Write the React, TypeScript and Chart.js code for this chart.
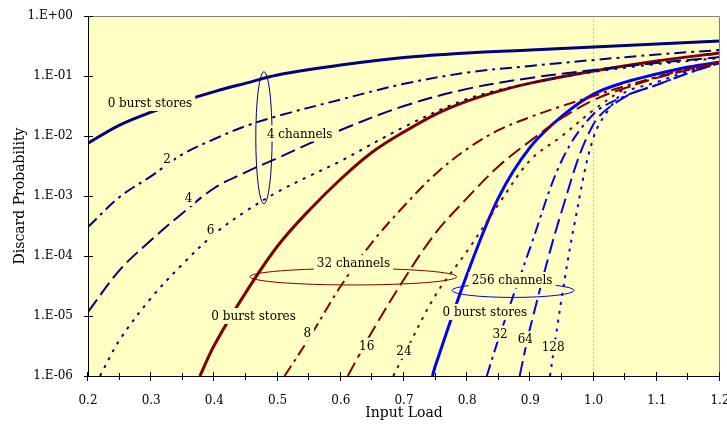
import React, { useEffect, useRef } from 'react';
import { Chart, registerables } from 'chart.js';
Chart.register(...registerables);

// ---- axis settings ----
const X_MIN = 0.2;
const X_MAX = 1.2;
const X_STEP = 0.1;
const Y_DECADES = [-6, -5, -4, -3, -2, -1, 0];
const REF_LOAD = 1.0;

// ---- 4 channels (navy) ----
const c4b0Load = [0.2, 0.25, 0.3, 0.35, 0.4, 0.45, 0.5, 0.6, 0.7, 0.8, 0.9, 1.0, 1.1, 1.2];
const c4b0Prob = [7.6e-3, 1.52e-2, 2.5e-2, 3.8e-2, 5.5e-2, 7.6e-2, 0.104, 0.152, 0.203, 0.242, 0.271, 0.304, 0.341, 0.383];
const c4b2Load = [0.2, 0.25, 0.3, 0.35, 0.4, 0.45, 0.5, 0.6, 0.7, 0.8, 0.9, 1.0, 1.1, 1.2];
const c4b2Prob = [3.04e-4, 9.6e-4, 2.15e-3, 5.0e-3, 8.9e-3, 1.47e-2, 2.15e-2, 4.06e-2, 7.4e-2, 0.114, 0.147, 0.185, 0.228, 0.271];
const c4b4Load = [0.2, 0.25, 0.3, 0.35, 0.4, 0.45, 0.5, 0.6, 0.7, 0.8, 0.9, 1.0, 1.1, 1.2];
const c4b4Prob = [1.17e-5, 5.8e-5, 1.85e-4, 5.2e-4, 1.36e-3, 2.5e-3, 4.3e-3, 1.26e-2, 3.16e-2, 6.1e-2, 9.3e-2, 0.126, 0.165, 0.207];
const c4b6Load = [0.219, 0.25, 0.3, 0.35, 0.4, 0.45, 0.5, 0.55, 0.6, 0.7, 0.8, 0.9, 1.0, 1.1, 1.2];
const c4b6Prob = [1e-6, 3.98e-6, 2.0e-5, 7.4e-5, 2.33e-4, 5.6e-4, 1.17e-3, 2.15e-3, 3.83e-3, 1.41e-2, 4.14e-2, 7.6e-2, 0.117, 0.158, 0.2];

// ---- 32 channels (dark red) ----
const c32b0Load = [0.377, 0.4, 0.45, 0.5, 0.55, 0.6, 0.65, 0.7, 0.75, 0.8, 0.85, 0.9, 1.0, 1.1, 1.2];
const c32b0Prob = [1e-6, 3.29e-6, 2.5e-5, 1.47e-4, 5.8e-4, 1.92e-3, 5.4e-3, 1.17e-2, 2.3e-2, 3.8e-2, 5.6e-2, 7.6e-2, 0.121, 0.178, 0.242];
const c32b8Load = [0.511, 0.55, 0.6, 0.65, 0.7, 0.75, 0.8, 0.85, 0.9, 0.95, 1.0, 1.05, 1.1, 1.15, 1.2];
const c32b8Prob = [1e-6, 4.3e-6, 3.16e-5, 1.71e-4, 6.8e-4, 2.33e-3, 6.1e-3, 1.26e-2, 2.07e-2, 3.16e-2, 4.64e-2, 6.8e-2, 9.6e-2, 0.131, 0.171];
const c32b16Load = [0.611, 0.65, 0.7, 0.75, 0.8, 0.85, 0.9, 0.95, 1.0, 1.05, 1.1, 1.15, 1.2];
const c32b16Prob = [1e-6, 5.6e-6, 4.1e-5, 2.42e-4, 9.3e-4, 3.16e-3, 8.3e-3, 2.0e-2, 3.98e-2, 6.3e-2, 9.3e-2, 0.126, 0.165];
const c32b24Load = [0.683, 0.7, 0.75, 0.8, 0.85, 0.9, 0.95, 1.0, 1.05, 1.1, 1.15, 1.2];
const c32b24Prob = [1e-6, 2.24e-6, 2.24e-5, 1.21e-4, 7.4e-4, 3.98e-3, 1e-2, 2.71e-2, 6.1e-2, 9.6e-2, 0.131, 0.171];

// ---- 256 channels (blue) ----
const c256b0Load = [0.745, 0.75, 0.8, 0.85, 0.9, 0.95, 1.0, 1.05, 1.1, 1.15, 1.2];
const c256b0Prob = [1e-6, 1.52e-6, 5.0e-5, 9.6e-4, 6.6e-3, 2.15e-2, 5.0e-2, 7.9e-2, 0.108, 0.141, 0.171];
const c256b32Load = [0.831, 0.85, 0.9, 0.95, 1.0, 1.05, 1.1, 1.15, 1.2];
const c256b32Prob = [1e-6, 4.3e-6, 1.41e-4, 3.98e-3, 2.33e-2, 4.64e-2, 7.1e-2, 0.112, 0.165];
const c256b64Load = [0.883, 0.9, 0.95, 1.0, 1.05, 1.1, 1.15, 1.2];
const c256b64Prob = [1e-6, 6.6e-6, 5.8e-4, 1.58e-2, 4.5e-2, 7.1e-2, 0.112, 0.165];
const c256b128Load = [0.931, 0.95, 0.97, 1.0, 1.03, 1.05, 1.1, 1.15, 1.2];
const c256b128Prob = [1e-6, 2.15e-5, 3.55e-4, 9.6e-3, 3.4e-2, 5.4e-2, 7.9e-2, 0.121, 0.171];

// ---- annotation texts (data coords) ----
const noteTexts = ['0 burst stores', '4 channels', '2', '4', '6', '32 channels', '0 burst stores', '8', '16', '24', '256 channels', '0 burst stores', '32', '64', '128'];
const noteLoads = [0.298, 0.535, 0.325, 0.359, 0.394, 0.62, 0.462, 0.547, 0.641, 0.70, 0.871, 0.828, 0.852, 0.892, 0.936];
const noteProbs = [3.55e-2, 1.1e-2, 4.14e-3, 9.3e-4, 2.7e-4, 7.6e-5, 1e-5, 5.27e-6, 3.2e-6, 2.64e-6, 3.98e-5, 1.17e-5, 5.1e-6, 4.1e-6, 3.0e-6];

// ---- group ellipses (data-coordinate bounds) ----
const ellipseLoadLo = [0.4655, 0.4563, 0.776];
const ellipseLoadHi = [0.4913, 0.7834, 0.969];
const ellipseProbLo = [7.4e-4, 3.29e-5, 2.04e-5];
const ellipseProbHi = [0.118, 6.2e-5, 3.5e-5];

// ---- styles ----
const FONT = '"DejaVu Serif", serif';
const PLOT_BG = '#FFFFC4';
const NAVY = '#000080';
const DRED = '#800000';
const BLUE = '#0000FF';
const ELLIPSE_COLORS = [NAVY, DRED, BLUE];
const SOLID: number[] = [];
const DASHDOT = [12, 5, 3, 5];
const LONGDASH = [15, 6];
const DOTTED = [3, 6];

const pts = (xs: number[], ys: number[]) => xs.map((x, i) => ({ x, y: ys[i] }));

const series = [
  { d: pts(c4b0Load, c4b0Prob), c: NAVY, dash: SOLID, w: 3 },
  { d: pts(c4b2Load, c4b2Prob), c: NAVY, dash: DASHDOT, w: 2 },
  { d: pts(c4b4Load, c4b4Prob), c: NAVY, dash: LONGDASH, w: 2 },
  { d: pts(c4b6Load, c4b6Prob), c: NAVY, dash: DOTTED, w: 2 },
  { d: pts(c32b0Load, c32b0Prob), c: DRED, dash: SOLID, w: 3 },
  { d: pts(c32b8Load, c32b8Prob), c: DRED, dash: DASHDOT, w: 2 },
  { d: pts(c32b16Load, c32b16Prob), c: DRED, dash: LONGDASH, w: 2 },
  { d: pts(c32b24Load, c32b24Prob), c: DRED, dash: DOTTED, w: 2 },
  { d: pts(c256b0Load, c256b0Prob), c: BLUE, dash: SOLID, w: 3 },
  { d: pts(c256b32Load, c256b32Prob), c: BLUE, dash: DASHDOT, w: 2 },
  { d: pts(c256b64Load, c256b64Prob), c: BLUE, dash: LONGDASH, w: 2 },
  { d: pts(c256b128Load, c256b128Prob), c: BLUE, dash: DOTTED, w: 2 },
];

const decor = {
  id: 'decor',
  beforeDraw(chart: any) {
    const { ctx, chartArea: a } = chart;
    ctx.save();
    ctx.fillStyle = PLOT_BG;
    ctx.fillRect(a.left, a.top, a.right - a.left, a.bottom - a.top);
    ctx.restore();
  },
  beforeDatasetsDraw(chart: any) {
    const { ctx, chartArea: a } = chart;
    const px = Math.round(chart.scales.x.getPixelForValue(REF_LOAD)) - 0.5;
    ctx.save();
    ctx.strokeStyle = '#C0C0C0';
    ctx.lineWidth = 1;
    ctx.setLineDash([2, 2]);
    ctx.beginPath();
    ctx.moveTo(px, a.top);
    ctx.lineTo(px, a.bottom);
    ctx.stroke();
    ctx.restore();
  },
  afterDatasetsDraw(chart: any) {
    const { ctx } = chart;
    const xs = chart.scales.x;
    const ys = chart.scales.y;
    ctx.save();
    ELLIPSE_COLORS.forEach((col, i) => {
      const x0 = xs.getPixelForValue(ellipseLoadLo[i]);
      const x1 = xs.getPixelForValue(ellipseLoadHi[i]);
      const y0 = ys.getPixelForValue(ellipseProbHi[i]);
      const y1 = ys.getPixelForValue(ellipseProbLo[i]);
      ctx.beginPath();
      ctx.strokeStyle = col;
      ctx.lineWidth = 1;
      ctx.setLineDash([]);
      ctx.ellipse((x0 + x1) / 2, (y0 + y1) / 2, (x1 - x0) / 2, (y1 - y0) / 2, 0, 0, Math.PI * 2);
      ctx.stroke();
    });
    ctx.font = '12px ' + FONT;
    ctx.textAlign = 'center';
    ctx.textBaseline = 'middle';
    noteTexts.forEach((t, i) => {
      const x = xs.getPixelForValue(noteLoads[i]);
      const y = ys.getPixelForValue(noteProbs[i]);
      const w = ctx.measureText(t).width + 6;
      ctx.fillStyle = PLOT_BG;
      ctx.fillRect(x - w / 2, y - 8, w, 16);
      ctx.fillStyle = '#000';
      ctx.fillText(t, x, y + 1);
    });
    ctx.restore();
  },
  afterDraw(chart: any) {
    const { ctx, chartArea: a } = chart;
    const xs = chart.scales.x;
    const ys = chart.scales.y;
    ctx.save();
    ctx.setLineDash([]);
    ctx.lineWidth = 1;
    ctx.strokeStyle = '#808080';
    ctx.beginPath();
    ctx.moveTo(a.left, a.top + 0.5);
    ctx.lineTo(a.right - 0.5, a.top + 0.5);
    ctx.lineTo(a.right - 0.5, a.bottom);
    ctx.stroke();
    ctx.strokeStyle = '#000';
    ctx.beginPath();
    ctx.moveTo(a.left + 0.5, a.top);
    ctx.lineTo(a.left + 0.5, a.bottom + 0.5);
    ctx.lineTo(a.right, a.bottom + 0.5);
    ctx.stroke();
    ctx.beginPath();
    for (let k = 0; k <= 20; k++) {
      const v = X_MIN + k * 0.05;
      const px = Math.round(xs.getPixelForValue(v)) - 0.5;
      const h = k % 2 === 0 ? 4 : 3;
      ctx.moveTo(px, a.bottom - h);
      ctx.lineTo(px, a.bottom + h + 1);
    }
    Y_DECADES.forEach((e) => {
      const py = Math.round(ys.getPixelForValue(Math.pow(10, e))) + 0.5;
      ctx.moveTo(a.left - 4, py);
      ctx.lineTo(a.left + 5, py);
    });
    ctx.stroke();
    ctx.restore();
  },
};

export default function App() {
  const ref = useRef<HTMLCanvasElement>(null);
  useEffect(() => {
    if (!ref.current) return;
    Chart.defaults.font.family = FONT;
    const chart = new Chart(ref.current, {
      type: 'line',
      data: {
        datasets: series.map((s) => ({
          data: s.d,
          borderColor: s.c,
          backgroundColor: s.c,
          borderWidth: s.w,
          borderDash: s.dash,
          borderCapStyle: 'butt',
          pointRadius: 0,
          fill: false,
          tension: 0.35,
        })),
      },
      options: {
        responsive: false,
        animation: false,
        events: [],
        layout: { autoPadding: false, padding: { left: 0, top: 16, right: 7, bottom: 0 } },
        plugins: { legend: { display: false }, tooltip: { enabled: false } },
        scales: {
          x: {
            type: 'linear',
            min: X_MIN,
            max: X_MAX,
            grid: { display: false },
            border: { display: false },
            ticks: {
              stepSize: X_STEP,
              padding: 10,
              color: '#000',
              font: { size: 12, family: FONT },
              callback: (v: any) => Number(v).toFixed(1),
            },
            title: {
              display: true,
              text: 'Input Load',
              color: '#000',
              font: { size: 14, family: FONT },
              padding: { top: 0, bottom: 3 },
            },
            afterFit: (s: any) => {
              s.height = 49;
              s.paddingLeft = 0;
              s.paddingRight = 0;
            },
          },
          y: {
            type: 'logarithmic',
            min: 1e-6,
            max: 1,
            grid: { display: false },
            border: { display: false },
            afterBuildTicks: (s: any) => {
              s.ticks = Y_DECADES.map((e) => ({ value: Math.pow(10, e) }));
            },
            ticks: {
              padding: 7,
              color: '#000',
              font: { size: 12, family: FONT },
              callback: (v: any) => {
                const e = Math.round(Math.log10(Number(v)));
                return '1.E' + (e < 0 ? '-' : '+') + String(Math.abs(e)).padStart(2, '0');
              },
            },
            title: {
              display: true,
              text: 'Discard Probability',
              color: '#000',
              font: { size: 14, family: FONT },
              padding: { top: 12, bottom: 0 },
            },
            afterFit: (s: any) => {
              s.width = 88;
              s.paddingTop = 0;
              s.paddingBottom = 0;
            },
          },
        },
      } as any,
      plugins: [decor],
    });
    return () => chart.destroy();
  }, []);
  return (
    <div style={{ position: 'fixed', left: 0, top: 0, width: 727, height: 425, background: '#fff' }}>
      <canvas ref={ref} width={727} height={425} style={{ display: 'block' }} />
    </div>
  );
}
